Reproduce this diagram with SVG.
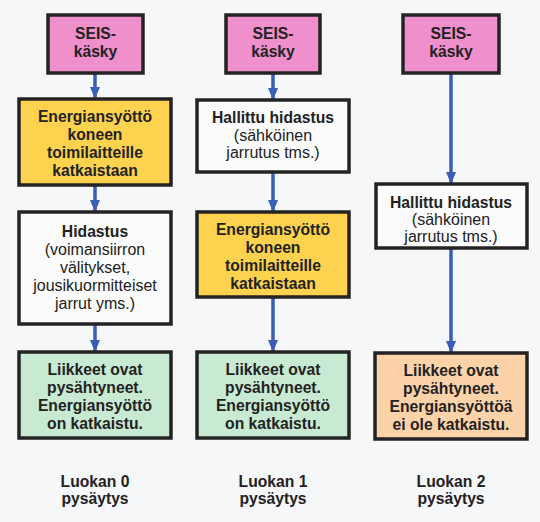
<svg xmlns="http://www.w3.org/2000/svg" width="540" height="522" viewBox="0 0 540 522">
<defs>
<marker id="ah" markerUnits="userSpaceOnUse" markerWidth="14" markerHeight="10" refX="12" refY="5" orient="auto">
<path d="M0,0 L12,5 L0,10 Z" fill="#3a5db5"/>
</marker>
<style>
.box{stroke:#232323;stroke-width:3.5}
.pink{fill:#ef8fcc}
.yel{fill:#fcd24e}
.wht{fill:#fbfbfc}
.grn{fill:#c9ead2}
.org{fill:#fcd3a9}
text{font-family:"Liberation Sans",Arial,sans-serif;font-size:16px;fill:#222;text-anchor:middle}
.b{font-weight:bold;font-size:15.7px}
.conn line{stroke:#3a5db5;stroke-width:3.5;marker-end:url(#ah)}
</style>
</defs>
<rect width="540" height="522" fill="#f6f7f9"/>

<g id="connectors" class="conn">
<line x1="95" y1="73" x2="95" y2="99"/>
<line x1="95" y1="185" x2="95" y2="212"/>
<line x1="95" y1="324" x2="95" y2="352"/>
<line x1="273" y1="73" x2="273" y2="100"/>
<line x1="273" y1="172" x2="273" y2="212"/>
<line x1="273" y1="297" x2="273" y2="352"/>
<line x1="451" y1="73" x2="451" y2="184"/>
<line x1="451" y1="248" x2="451" y2="353"/>
</g>

<!-- Column 0 -->
<g id="seis0">
<rect class="box pink" x="48" y="15" width="95" height="58"/>
<text class="b" x="95.5" y="39">SEIS-</text>
<text class="b" x="95.5" y="57">käsky</text>
</g>
<g id="energia0">
<rect class="box yel" x="19" y="99" width="152" height="86"/>
<text class="b" x="95" y="122">Energiansyöttö</text>
<text class="b" x="95" y="140">koneen</text>
<text class="b" x="95" y="158">toimilaitteille</text>
<text class="b" x="95" y="176">katkaistaan</text>
</g>
<g id="hidastus0">
<rect class="box wht" x="19" y="212" width="152" height="112"/>
<text class="b" x="95" y="237">Hidastus</text>
<text x="95" y="255">(voimansiirron</text>
<text x="95" y="273">välitykset,</text>
<text x="95" y="291">jousikuormitteiset</text>
<text x="95" y="309">jarrut yms.)</text>
</g>
<g id="tulos0">
<rect class="box grn" x="19" y="352" width="152" height="86"/>
<text class="b" x="95" y="375">Liikkeet ovat</text>
<text class="b" x="95" y="393">pysähtyneet.</text>
<text class="b" x="95" y="411">Energiansyöttö</text>
<text class="b" x="95" y="429">on katkaistu.</text>
</g>
<g id="luokka0">
<text class="b" x="95" y="487">Luokan 0</text>
<text class="b" x="95" y="504">pysäytys</text>
</g>

<!-- Column 1 -->
<g id="seis1">
<rect class="box pink" x="226" y="15" width="94" height="58"/>
<text class="b" x="273" y="39">SEIS-</text>
<text class="b" x="273" y="57">käsky</text>
</g>
<g id="hallittu1">
<rect class="box wht" x="197" y="100" width="152" height="72"/>
<text class="b" x="273" y="123">Hallittu hidastus</text>
<text x="273" y="141">(sähköinen</text>
<text x="273" y="158">jarrutus tms.)</text>
</g>
<g id="energia1">
<rect class="box yel" x="197" y="212" width="152" height="85"/>
<text class="b" x="273" y="235">Energiansyöttö</text>
<text class="b" x="273" y="253">koneen</text>
<text class="b" x="273" y="271">toimilaitteille</text>
<text class="b" x="273" y="289">katkaistaan</text>
</g>
<g id="tulos1">
<rect class="box grn" x="197" y="352" width="152" height="86"/>
<text class="b" x="273" y="375">Liikkeet ovat</text>
<text class="b" x="273" y="393">pysähtyneet.</text>
<text class="b" x="273" y="411">Energiansyöttö</text>
<text class="b" x="273" y="429">on katkaistu.</text>
</g>
<g id="luokka1">
<text class="b" x="273" y="487">Luokan 1</text>
<text class="b" x="273" y="504">pysäytys</text>
</g>

<!-- Column 2 -->
<g id="seis2">
<rect class="box pink" x="403" y="15" width="96" height="58"/>
<text class="b" x="451" y="39">SEIS-</text>
<text class="b" x="451" y="57">käsky</text>
</g>
<g id="hallittu2">
<rect class="box wht" x="376" y="184" width="151" height="64"/>
<text class="b" x="451" y="208">Hallittu hidastus</text>
<text x="451" y="225">(sähköinen</text>
<text x="451" y="242">jarrutus tms.)</text>
</g>
<g id="tulos2">
<rect class="box org" x="375" y="353" width="152" height="86"/>
<text class="b" x="451" y="376">Liikkeet ovat</text>
<text class="b" x="451" y="394">pysähtyneet.</text>
<text class="b" x="451" y="412">Energiansyöttöä</text>
<text class="b" x="451" y="430">ei ole katkaistu.</text>
</g>
<g id="luokka2">
<text class="b" x="451" y="487">Luokan 2</text>
<text class="b" x="451" y="504">pysäytys</text>
</g>
</svg>
